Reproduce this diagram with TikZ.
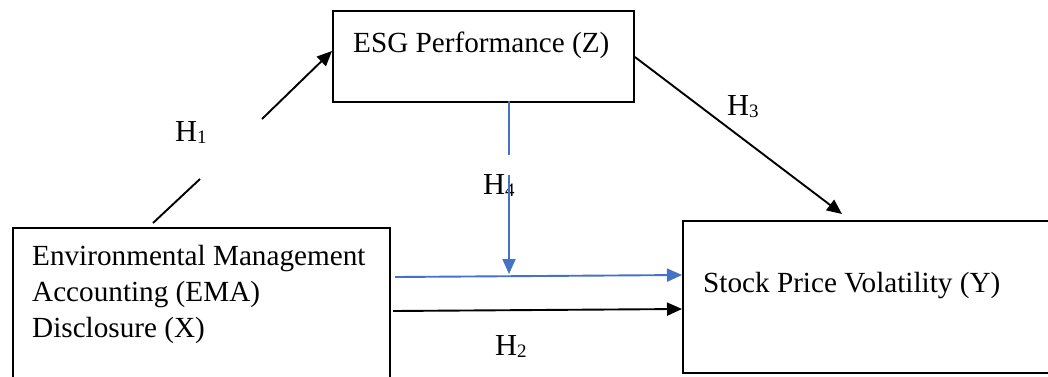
\documentclass[tikz,border=0pt]{standalone}
\usepackage{fontspec}
\setmainfont{Liberation Serif}
\usetikzlibrary{arrows.meta}
\definecolor{linkblue}{RGB}{68,114,196}
\tikzset{
  box/.style={draw=black, line width=1.9pt, fill=none, inner sep=0pt, anchor=north west},
  boxtext/.style={anchor=base west, inner sep=0pt, font=\fontsize{29.2}{36}\selectfont},
  hyp/.style={anchor=base west, inner sep=0pt, font=\fontsize{30.5}{36}\selectfont},
  link/.style={line width=1.9pt, black},
  bluelink/.style={line width=1.9pt, linkblue},
  tip/.style={-{Triangle[length=15pt,width=13pt]}}
}
\newcommand{\hsub}[1]{\raisebox{-2.5pt}{\fontsize{19}{19}\selectfont #1}}
\begin{document}
\begin{tikzpicture}[x=1pt,y=-1pt]
\useasboundingbox (0,0) rectangle (1048,376);
\clip (0,0) rectangle (1048,376);
\fill[white] (0,0) rectangle (1048,376);

% boxes
\node[box, minimum width=301pt, minimum height=91pt] (esg) at (332,10) {};
\node[box, minimum width=377pt, minimum height=160pt] (ema) at (12,227) {};
\node[box, minimum width=380pt, minimum height=152pt] (spv) at (682,220) {};

% box texts
\node[boxtext] (esgt) at (353,52) {ESG Performance (Z)};
\node[boxtext] (emat1) at (32,265) {Environmental Management};
\node[boxtext] (emat2) at (32,301) {Accounting (EMA)};
\node[boxtext] (emat3) at (32,337) {Disclosure (X)};
\node[boxtext] (spvt) at (703,292) {Stock Price Volatility (Y)};

% hypothesis labels
\node[hyp] (h1) at (175,141) {H\hsub{1}};
\node[hyp] (h2) at (495,355) {H\hsub{2}};
\node[hyp] (h3) at (727,115) {H\hsub{3}};
\node[hyp] (h4) at (483,194) {H\hsub{4}};

% H1: EMA -> ESG, interrupted around its label
\coordinate (h1a) at (153,223);
\coordinate (h1b) at (200,179);
\coordinate (h1c) at (262,119);
\coordinate (h1d) at (esg.west |- 0,51);
\draw[link] (h1a) -- (h1b);
\draw[link, tip] (h1c) -- (h1d);

% H3: ESG -> stock price volatility
\coordinate (h3a) at (esg.east |- 0,57);
\coordinate (h3b) at (842,214);
\draw[link, tip] (h3a) -- (h3b);

% H2: EMA -> stock price volatility
\coordinate (h2a) at (393,311);
\coordinate (h2b) at (spv.west |- 0,309);
\draw[link, tip] (h2a) -- (h2b);

% moderated path (blue)
\coordinate (mda) at (395,277);
\coordinate (mdb) at (spv.west |- 0,275);
\draw[bluelink, tip] (mda) -- (mdb);

% H4: ESG moderates the EMA -> volatility path
\coordinate (h4a) at (509,101);
\coordinate (h4b) at (509,155);
\coordinate (h4c) at (509,175);
\coordinate (h4d) at (509,274);
\draw[bluelink] (h4a) -- (h4b);
\draw[bluelink, tip] (h4c) -- (h4d);
\end{tikzpicture}
\end{document}
